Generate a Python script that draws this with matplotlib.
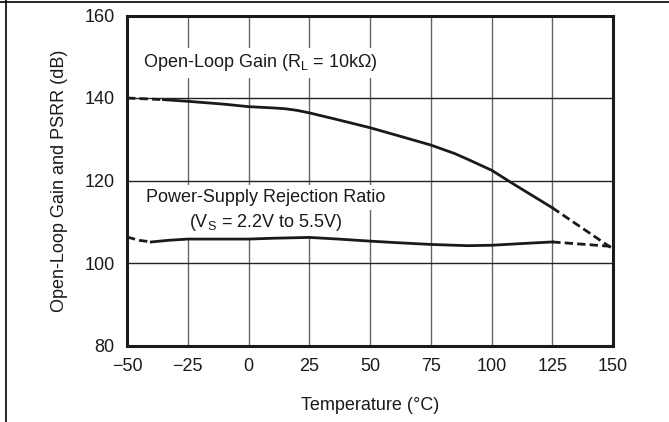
import numpy as np
import matplotlib.pyplot as plt
from matplotlib.lines import Line2D

plt.rcParams['font.family'] = ['Liberation Sans', 'DejaVu Sans']

# Open-loop gain (R_L = 10k)
temp_gain = [-35, -25, -10, 0, 10, 15, 20, 25, 37, 50, 62, 75, 85, 90, 100, 110, 125]
gain = [139.6, 139.2, 138.5, 137.9, 137.6, 137.4, 137.0, 136.4, 134.7, 132.8, 130.8,
        128.6, 126.5, 125.2, 122.5, 118.8, 113.4]
temp_gain_start = [-50, -35]
gain_start = [140.0, 139.6]
temp_gain_end = [125, 150]
gain_end = [113.4, 103.4]

# PSRR (V_S = 2.2V to 5.5V)
temp_psrr = [-40, -33, -25, -10, 0, 10, 25, 37, 50, 62, 75, 90, 100, 112, 125]
psrr = [105.1, 105.5, 105.8, 105.8, 105.8, 106.0, 106.2, 105.8, 105.3, 104.9,
        104.5, 104.2, 104.3, 104.7, 105.1]
temp_psrr_start = [-50, -45, -40]
psrr_start = [106.3, 105.5, 105.1]
temp_psrr_end = [125, 150]
psrr_end = [105.1, 104.0]

xticks = [-50, -25, 0, 25, 50, 75, 100, 125, 150]
xticklabels = ['\u221250', '\u221225', '0', '25', '50', '75', '100', '125', '150']
yticks = [80, 100, 120, 140, 160]

fig = plt.figure(figsize=(6.69, 4.22), dpi=100)
ax = fig.add_axes([127 / 669, 1 - 345.5 / 422, (613 - 127) / 669, (345.5 - 15.5) / 422])

# grid
for x in xticks[1:-1]:
    ax.axvline(x, color='#666666', lw=1.0, zorder=1)
for y in yticks[1:-1]:
    ax.axhline(y, color='#222222', lw=1.0, zorder=1)

lc = '#1a1a1a'
dash = (0, (3, 1.5))
# gain curve
ax.plot(temp_gain, gain, color=lc, lw=2.0, zorder=5, solid_joinstyle='round')
ax.plot(temp_gain_start, gain_start, color=lc, lw=2.0, ls=dash, zorder=5)
ax.plot(temp_gain_end, gain_end, color=lc, lw=2.0, ls=dash, zorder=5)

# psrr curve
ax.plot(temp_psrr, psrr, color=lc, lw=2.0, zorder=5, solid_joinstyle='round')
ax.plot(temp_psrr_start, psrr_start, color=lc, lw=2.0, ls=dash, zorder=5)
ax.plot(temp_psrr_end, psrr_end, color=lc, lw=2.0, ls=dash, zorder=5)

ax.set_xlim(-50, 150)
ax.set_ylim(80, 160)
ax.set_xticks(xticks)
ax.set_xticklabels(xticklabels)
ax.set_yticks(yticks)
ax.tick_params(length=0, labelsize=13, pad=9, colors='#1a1a1a')
for s in ax.spines.values():
    s.set_linewidth(2.2)
    s.set_color('#1a1a1a')

ax.set_xlabel('Temperature (\u00b0C)', fontsize=13, labelpad=16, color='#1a1a1a')
ax.set_ylabel('Open-Loop Gain and PSRR (dB)', fontsize=13, labelpad=12, color='#1a1a1a')

box = dict(facecolor='white', edgecolor='none', pad=3)
ax.text(-43.5, 148.5, 'Open-Loop Gain (R$_\\mathregular{L}$ = 10k\u03a9)', fontsize=13,
        va='center', ha='left', color='#1a1a1a', zorder=4, bbox=box)
ax.text(7, 115.8, 'Power-Supply Rejection Ratio', fontsize=13,
        va='center', ha='center', color='#1a1a1a', zorder=4, bbox=box)
ax.text(7, 109.7, '(V$_\\mathregular{S}$ = 2.2V to 5.5V)', fontsize=13,
        va='center', ha='center', color='#1a1a1a', zorder=4, bbox=box)

# frame around the figure
fig.add_artist(Line2D([0, 1], [1 - 1.5 / 422, 1 - 1.5 / 422], color='black', lw=1.2))
fig.add_artist(Line2D([6 / 669, 6 / 669], [0, 1], color='black', lw=1.2))

fig.savefig('out.png', dpi=100)
